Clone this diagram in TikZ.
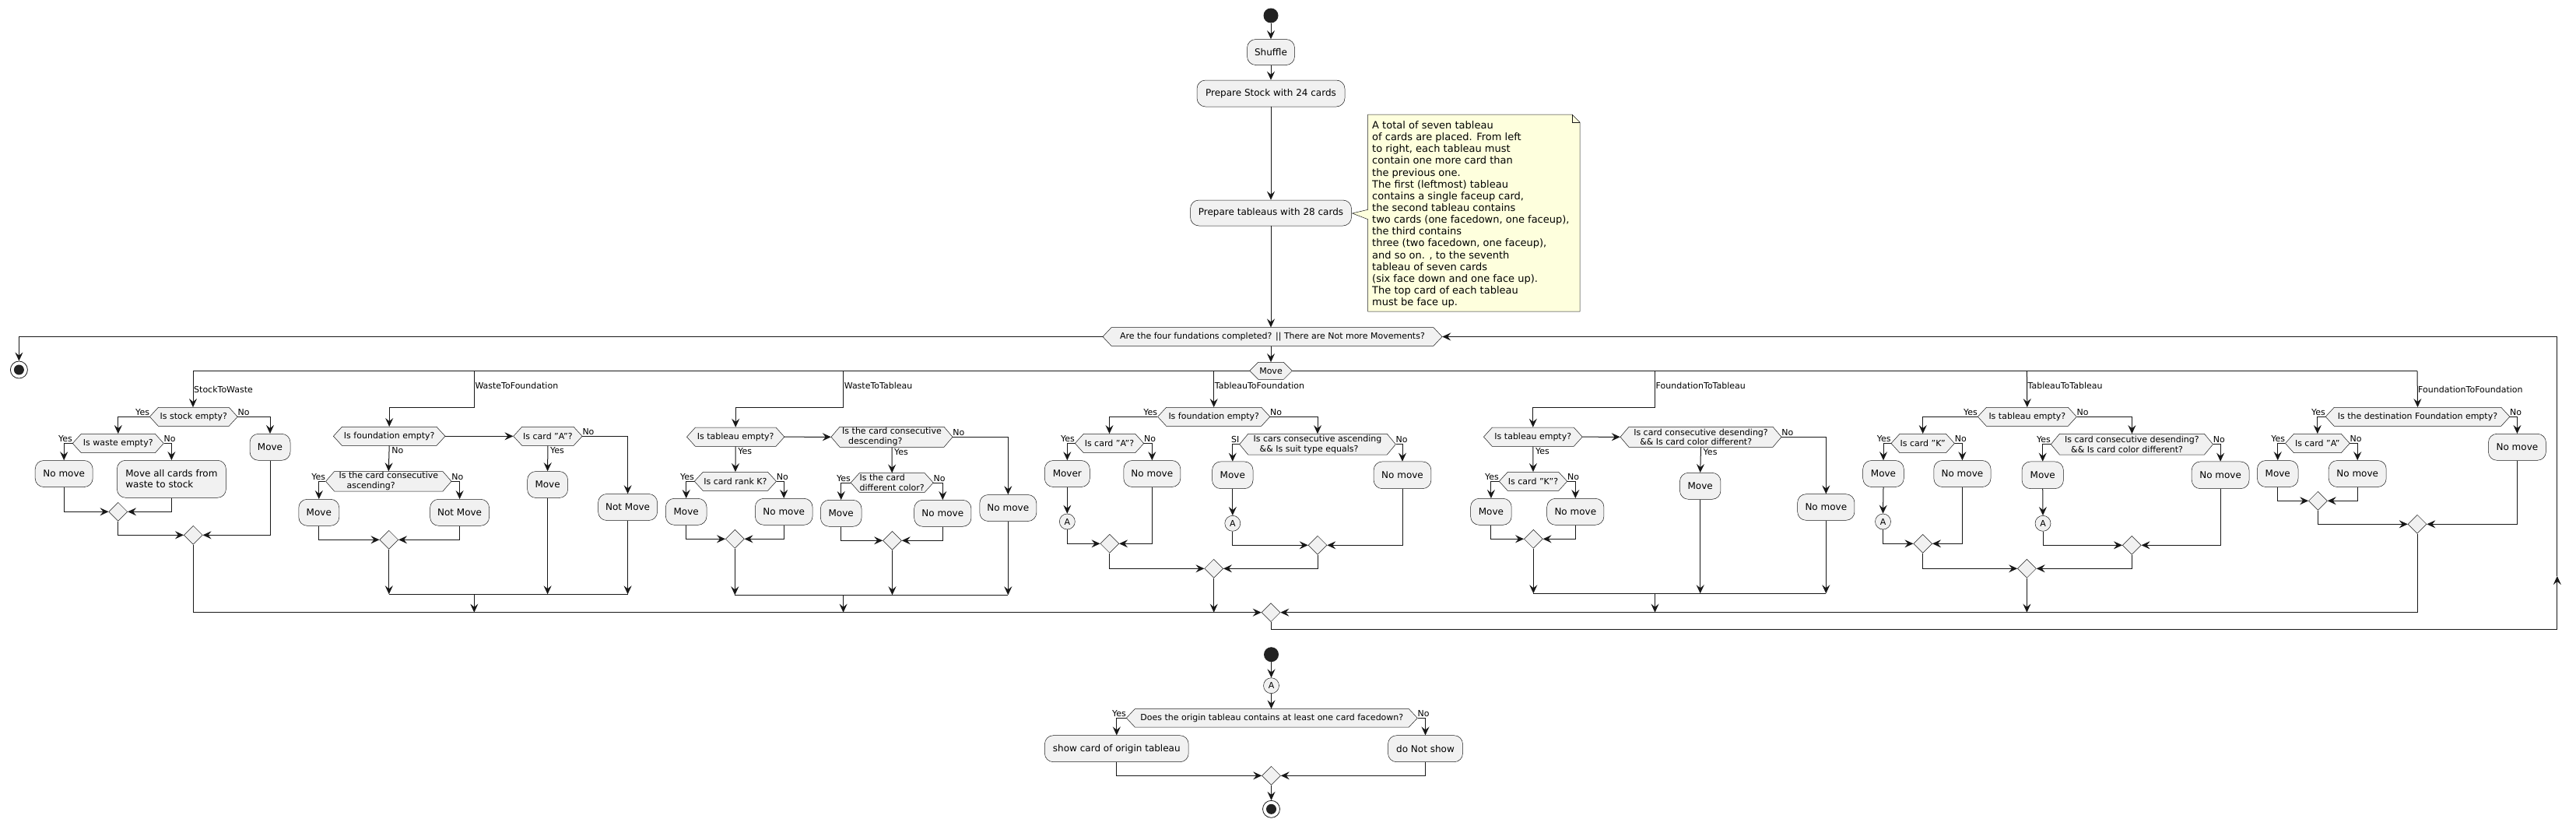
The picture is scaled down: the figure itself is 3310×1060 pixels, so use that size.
\documentclass[tikz,border=0pt]{standalone}
\usepackage{fontspec}
\setmainfont{DejaVu Sans}
\usetikzlibrary{arrows.meta,shapes.geometric,calc}
\definecolor{lc}{HTML}{181818}
\definecolor{bg}{HTML}{F1F1F1}
\definecolor{notef}{HTML}{FEFFDD}
\definecolor{dark}{HTML}{222222}
\newcommand\fA{\fontsize{12}{14}\selectfont}
\newcommand\fB{\fontsize{11}{12.8}\selectfont}
\newcommand\fN{\fontsize{13}{15.13}\selectfont}
\tikzset{
  actb/.style={draw=lc, line width=0.5pt, fill=bg, rounded corners=11pt, inner sep=0pt, font=\fA, align=left},
  hexb/.style={draw=lc, line width=0.5pt, fill=bg},
  hext/.style={inner sep=0pt, font=\fB, align=left},
  lbl/.style={inner sep=0pt, font=\fB},
  flow/.style={draw=lc, line width=1pt, -{Stealth[length=11pt,width=10pt,inset=4pt]}},
  ln/.style={draw=lc, line width=1pt},
  mdia/.style={diamond, draw=lc, line width=0.5pt, fill=bg, minimum width=24pt, minimum height=24pt, inner sep=0pt},
  conn/.style={circle, draw=lc, line width=0.5pt, fill=bg, minimum size=20pt, inner sep=0pt, font=\fB},
  startc/.style={circle, fill=dark, minimum size=19pt, inner sep=0pt},
  endc/.style={circle, draw=lc, line width=0.8pt, fill=white, minimum size=22pt, inner sep=0pt, path picture={\fill[dark] (path picture bounding box.center) circle[radius=6.5pt];}},
}
% name, cx, cy, w, h, text
\newcommand\actn[6]{\node[actb, minimum width=#4, minimum height=#5] (#1) at (#2,#3) {#6};}
% name, cx, cy, half-w, half-h, text
\newcommand\hexn[6]{%
  \filldraw[hexb] ({#2-#4},{#3}) -- ({#2-#4+11},{#3-#5}) -- ({#2+#4-11},{#3-#5}) -- ({#2+#4},{#3}) -- ({#2+#4-11},{#3+#5}) -- ({#2-#4+11},{#3+#5}) -- cycle;
  \node[hext, minimum width={2*#4}, minimum height={2*#5}] (#1) at (#2,#3) {#6};}
\newcommand\LL[3]{\node[lbl,anchor=base east] (#1) at ([yshift=2pt]#2.west) {#3};}
\newcommand\RL[3]{\node[lbl,anchor=base west] (#1) at ([yshift=2pt]#2.east) {#3};}
\newcommand\BL[3]{\node[lbl,anchor=north west] (#1) at ([xshift=3pt,yshift=-2pt]#2.south) {#3};}
\begin{document}
\begin{tikzpicture}[x=1pt,y=-1pt]
\fill[white] (0,0) rectangle (3310,1060);
\useasboundingbox (0,0) rectangle (3310,1060);

% ---------- top ----------
\node[startc] (st) at (1633,20) {};
\actn{shuf}{1633}{67}{61}{33}{Shuffle}
\actn{prep}{1633}{120}{190}{34}{Prepare Stock with 24 cards}
\actn{tabl}{1633}{273.5}{207}{33}{Prepare tableaus with 28 cards}
\draw[flow] (st.south) -- (shuf.north);
\draw[flow] (shuf.south) -- (prep.north);
\draw[flow] (prep.south) -- (tabl.north);

% note
\filldraw[draw=lc, line width=0.5pt, fill=notef] (1757.6,147) -- (2020,147) -- (2030,157) -- (2030,400) -- (1757.6,400) -- (1757.6,281.7) -- (1737.5,274) -- (1757.6,269.3) -- cycle;
\draw[lc, line width=0.5pt] (2020,147) -- (2020,157) -- (2030,157);
\node[font=\fN, align=left, anchor=north west, inner sep=0pt] (notetxt) at (1763,155.5) {A total of seven tableau\\of cards are placed. From left\\to right, each tableau must\\contain one more card than\\the previous one.\\The first (leftmost) tableau\\contains a single faceup card,\\the second tableau contains\\two cards (one facedown, one faceup),\\the third contains\\three (two facedown, one faceup),\\and so on. , to the seventh\\tableau of seven cards\\(six face down and one face up).\\The top card of each tableau\\must be face up.};

\hexn{loop}{1635}{432.5}{218}{11.8}{Are the four fundations completed? || There are Not more Movements?}
\draw[flow] (tabl.south) -- (tabl.south |- loop.north);

% exit
\node[endc] (en1) at (24.4,475) {};
\draw[flow] (loop.west) -| (en1.north);

% split line
\coordinate (b1) at (248,476.5);
\coordinate (b2) at (609.3,476.5);
\coordinate (b3) at (1083.6,476.5);
\coordinate (b4) at (1559.7,476.5);
\coordinate (b5) at (2126.5,476.5);
\coordinate (b6) at (2604.4,476.5);
\coordinate (b7) at (3106,476.5);
\draw[ln] (b1) -- (b7);
\hexn{mv}{1633}{476.3}{27.3}{11}{Move}
\draw[flow] (loop.south -| mv.north) -- (mv.north);

% big merge
\node[mdia] (mg) at (1633,786.7) {};
\coordinate (lbr) at (3285.8,808.3);
\coordinate (lmid) at (3285.8,740);
\coordinate (ltr) at (3285.8,432.5);
\draw[ln] (mg.south) |- (lbr);
\draw[flow] (lbr) -- (lmid);
\draw[ln] (lmid) -- (ltr);
\draw[flow] (ltr) -- (loop.east);

% ---------- StockToWaste ----------
\node[lbl,anchor=west] (bl1) at (249,500) {StockToWaste};
\hexn{s1}{248.8}{535.3}{56.4}{12}{Is stock empty?}
\hexn{s2}{151.8}{569.5}{58.5}{12.2}{Is waste empty?}
\actn{s3}{82.2}{608.5}{74}{34}{No move}
\actn{s4}{220.4}{615.3}{140}{48}{Move all cards from\\waste to stock}
\node[mdia] (s5) at (151.8,657.3) {};
\actn{s6}{347}{574.3}{52}{34}{Move}
\node[mdia] (s7) at (248.3,687.3) {};
\draw[flow] (b1) -- (b1 |- s1.north);
\draw[flow] (s1.west) -| (s2.north);
\LL{ls1}{s1}{Yes}
\draw[flow] (s1.east) -| (s6.north);
\RL{ls2}{s1}{No}
\draw[flow] (s2.west) -| (s3.north);
\LL{ls3}{s2}{Yes}
\draw[flow] (s2.east) -| (s4.north);
\RL{ls4}{s2}{No}
\draw[flow] (s3.south) |- (s5.west);
\draw[flow] (s4.south) |- (s5.east);
\draw[flow] (s5.south) |- (s7.west);
\draw[flow] (s6.south) |- (s7.east);
\draw[flow] (s7.south) |- (mg.west);

% ---------- WasteToFoundation ----------
\node[lbl,anchor=west] (bl2) at (610.3,495.7) {WasteToFoundation};
\hexn{w1}{500.2}{560.3}{71.8}{12}{Is foundation empty?}
\hexn{w2}{703.9}{560.3}{44.2}{12}{Is card "A"?}
\hexn{w3}{499.3}{618.3}{80.7}{12.7}{Is the card consecutive\\\hspace*{10pt}ascending?}
\actn{w4}{409.8}{658.3}{52}{34}{Move}
\actn{w5}{590.6}{658.3}{76}{34}{Not Move}
\node[mdia] (w6) at (499.8,693.3) {};
\actn{w7}{703.6}{622.5}{52}{34}{Move}
\actn{w8}{806.6}{651.5}{76}{34}{Not Move}
\coordinate (w2k) at (609.3,523.3);
\coordinate (wm) at (609.3,763.3);
\draw[flow] (b2) -- (w2k) -| (w1.north);
\draw[flow] (w1.east) -- (w2.west);
\draw[flow] (w1.south) -- (w3.north);
\BL{lw1}{w1}{No}
\draw[flow] (w3.west) -| (w4.north);
\LL{lw2}{w3}{Yes}
\draw[flow] (w3.east) -| (w5.north);
\RL{lw3}{w3}{No}
\draw[flow] (w4.south) |- (w6.west);
\draw[flow] (w5.south) |- (w6.east);
\draw[flow] (w2.south) -- (w7.north);
\BL{lw4}{w2}{Yes}
\draw[flow] (w2.east) -| (w8.north);
\RL{lw5}{w2}{No}
\draw[flow] (w6.south) -- (w6.south |- wm);
\draw[flow] (w7.south) -- (w7.south |- wm);
\draw[flow] (w8.south) -- (w8.south |- wm);
\draw[ln] (w6.south |- wm) -- (w8.south |- wm);
\draw[flow] (wm) -- (wm |- mg.west);

% ---------- WasteToTableau ----------
\node[lbl,anchor=west] (bl3) at (1084.6,495.7) {WasteToTableau};
\hexn{t1}{945.2}{561.2}{62.7}{12.2}{Is tableau empty?}
\hexn{t2}{1146}{561.3}{78}{13}{Is the card consecutive\\\hspace*{8pt}descending?}
\actn{t3}{1295.3}{652.5}{73}{34}{No move}
\hexn{t4}{944.9}{618.3}{52.6}{12}{Is card rank K?}
\actn{t5}{881.7}{657.3}{52.6}{34}{Move}
\actn{t6}{1007.2}{657.3}{73.7}{34}{No move}
\node[mdia] (t7) at (944.3,692.3) {};
\hexn{t8}{1146.2}{620}{53}{12.3}{Is the card\\different color?}
\actn{t9}{1080.7}{659.3}{52.6}{34}{Move}
\actn{t10}{1211.3}{659.3}{73.3}{34}{No move}
\node[mdia] (t11) at (1146.5,694.3) {};
\coordinate (t3k) at (1083.6,523.3);
\coordinate (tm) at (1083.6,764.3);
\draw[flow] (b3) -- (t3k) -| (t1.north);
\draw[flow] (t1.east) -- (t2.west);
\draw[flow] (t2.east) -| (t3.north);
\RL{lt1}{t2}{No}
\draw[flow] (t1.south) -- (t4.north);
\BL{lt2}{t1}{Yes}
\draw[flow] (t4.west) -| (t5.north);
\LL{lt3}{t4}{Yes}
\draw[flow] (t4.east) -| (t6.north);
\RL{lt4}{t4}{No}
\draw[flow] (t5.south) |- (t7.west);
\draw[flow] (t6.south) |- (t7.east);
\draw[flow] (t2.south) -- (t8.north);
\BL{lt5}{t2}{Yes}
\draw[flow] (t8.west) -| (t9.north);
\LL{lt6}{t8}{Yes}
\draw[flow] (t8.east) -| (t10.north);
\RL{lt7}{t8}{No}
\draw[flow] (t9.south) |- (t11.west);
\draw[flow] (t10.south) |- (t11.east);
\draw[flow] (t7.south) -- (t7.south |- tm);
\draw[flow] (t11.south) -- (t11.south |- tm);
\draw[flow] (t3.south) -- (t3.south |- tm);
\draw[ln] (t7.south |- tm) -- (t3.south |- tm);
\draw[flow] (tm) -- (tm |- mg.west);

% ---------- TableauToFoundation ----------
\node[lbl,anchor=west] (bl4) at (1560.7,495.7) {TableauToFoundation};
\hexn{f1}{1559.7}{535.3}{72.1}{12}{Is foundation empty?}
\hexn{f2}{1425.5}{569.5}{44.2}{12.2}{Is card "A"?}
\actn{f3}{1371.3}{608.5}{58}{34}{Mover}
\node[conn] (f4) at (1371.3,670) {A};
\actn{f5}{1480.3}{608.5}{73}{34}{No move}
\node[mdia] (f6) at (1425.8,698.3) {};
\hexn{f7}{1693}{570.7}{100.3}{13.3}{Is cars consecutive ascending\\\hspace*{8pt}\&\& Is suit type equals?}
\actn{f8}{1583.8}{610.3}{52.5}{34.7}{Move}
\node[conn] (f9) at (1583.8,672.3) {A};
\actn{f10}{1802}{610.3}{73.8}{34.7}{No move}
\node[mdia] (f11) at (1693,700.3) {};
\node[mdia] (f12) at (1559.7,730.3) {};
\draw[flow] (b4) -- (f1.north);
\draw[flow] (f1.west) -| (f2.north);
\LL{lf1}{f1}{Yes}
\draw[flow] (f1.east) -| (f7.north);
\RL{lf2}{f1}{No}
\draw[flow] (f2.west) -| (f3.north);
\LL{lf3}{f2}{Yes}
\draw[flow] (f2.east) -| (f5.north);
\RL{lf4}{f2}{No}
\draw[flow] (f3.south) -- (f4.north);
\draw[flow] (f4.south) |- (f6.west);
\draw[flow] (f5.south) |- (f6.east);
\draw[flow] (f7.west) -| (f8.north);
\LL{lf5}{f7}{SI}
\draw[flow] (f7.east) -| (f10.north);
\RL{lf6}{f7}{No}
\draw[flow] (f8.south) -- (f9.north);
\draw[flow] (f9.south) |- (f11.west);
\draw[flow] (f10.south) |- (f11.east);
\draw[flow] (f6.south) |- (f12.west);
\draw[flow] (f11.south) |- (f12.east);
\draw[flow] (f12.south) -- (f12.south |- mg.west);

% ---------- FoundationToTableau ----------
\node[lbl,anchor=west] (bl5) at (2127.5,495.7) {FoundationToTableau};
\hexn{g1}{1969.8}{561.2}{63.4}{12.2}{Is tableau empty?}
\hexn{g2}{2185.5}{561.3}{103.5}{13}{Is card consecutive desending?\\\hspace*{8pt}\&\& Is card color different?}
\actn{g3}{2346.3}{651.5}{73.3}{33.6}{No move}
\actn{g4}{2184.7}{624.3}{52.5}{34}{Move}
\hexn{g5}{1970}{618.3}{43.7}{12}{Is card "K"?}
\actn{g6}{1915.9}{657.3}{52.6}{34}{Move}
\actn{g7}{2024.3}{657.3}{73.2}{34}{No move}
\node[mdia] (g8) at (1970.3,692.3) {};
\coordinate (g5k) at (2126.5,523.3);
\coordinate (gm) at (2126.5,762.3);
\draw[flow] (b5) -- (g5k) -| (g1.north);
\draw[flow] (g1.east) -- (g2.west);
\draw[flow] (g2.east) -| (g3.north);
\RL{lg1}{g2}{No}
\draw[flow] (g2.south) -- (g4.north);
\BL{lg2}{g2}{Yes}
\draw[flow] (g1.south) -- (g5.north);
\BL{lg3}{g1}{Yes}
\draw[flow] (g5.west) -| (g6.north);
\LL{lg4}{g5}{Yes}
\draw[flow] (g5.east) -| (g7.north);
\RL{lg5}{g5}{No}
\draw[flow] (g6.south) |- (g8.west);
\draw[flow] (g7.south) |- (g8.east);
\draw[flow] (g8.south) -- (g8.south |- gm);
\draw[flow] (g4.south) -- (g4.south |- gm);
\draw[flow] (g3.south) -- (g3.south |- gm);
\draw[ln] (g8.south |- gm) -- (g3.south |- gm);
\draw[flow] (gm) -- (gm |- mg.east);

% ---------- TableauToTableau ----------
\node[lbl,anchor=west] (bl6) at (2605.4,495.7) {TableauToTableau};
\hexn{h1}{2604.8}{535.3}{63.5}{12}{Is tableau empty?}
\hexn{h2}{2470.7}{569.5}{40.7}{12.2}{Is card "K"}
\actn{h3}{2420}{608.5}{52.6}{34}{Move}
\node[conn] (h4) at (2419.5,670) {A};
\actn{h5}{2521.4}{608.5}{73.2}{34}{No move}
\node[mdia] (h6) at (2470.7,698.3) {};
\hexn{h7}{2739.4}{570.7}{104.1}{13.3}{Is card consecutive desending?\\\hspace*{8pt}\&\& Is card color different?}
\actn{h8}{2624.7}{610.3}{53.4}{34.7}{Move}
\node[conn] (h9) at (2625,672.3) {A};
\actn{h10}{2853.1}{610.3}{73.8}{34.7}{No move}
\node[mdia] (h11) at (2739.2,700.3) {};
\node[mdia] (h12) at (2604.4,730.3) {};
\draw[flow] (b6) -- (h1.north);
\draw[flow] (h1.west) -| (h2.north);
\LL{lh1}{h1}{Yes}
\draw[flow] (h1.east) -| (h7.north);
\RL{lh2}{h1}{No}
\draw[flow] (h2.west) -| (h3.north);
\LL{lh3}{h2}{Yes}
\draw[flow] (h2.east) -| (h5.north);
\RL{lh4}{h2}{No}
\draw[flow] (h3.south) -- (h4.north);
\draw[flow] (h4.south) |- (h6.west);
\draw[flow] (h5.south) |- (h6.east);
\draw[flow] (h7.west) -| (h8.north);
\LL{lh5}{h7}{Yes}
\draw[flow] (h7.east) -| (h10.north);
\RL{lh6}{h7}{No}
\draw[flow] (h8.south) -- (h9.north);
\draw[flow] (h9.south) |- (h11.west);
\draw[flow] (h10.south) |- (h11.east);
\draw[flow] (h6.south) |- (h12.west);
\draw[flow] (h11.south) |- (h12.east);
\draw[flow] (h12.south) -- (h12.south |- mg.east);

% ---------- FoundationToFoundation ----------
\node[lbl,anchor=west] (bl7) at (3107,500) {FoundationToFoundation};
\hexn{k1}{3106.5}{535.3}{118.3}{12}{Is the destination Foundation empty?}
\hexn{k2}{2977.8}{569.5}{41.4}{12.2}{Is card "A"}
\actn{k3}{2926.7}{608.5}{52.6}{34}{Move}
\actn{k4}{3029.2}{608.5}{74}{34}{No move}
\node[mdia] (k5) at (2978.4,643.3) {};
\actn{k6}{3234.4}{574.3}{74}{34}{No move}
\node[mdia] (k7) at (3106,673.3) {};
\draw[flow] (b7) -- (k1.north);
\draw[flow] (k1.west) -| (k2.north);
\LL{lk1}{k1}{Yes}
\draw[flow] (k1.east) -| (k6.north);
\RL{lk2}{k1}{No}
\draw[flow] (k2.west) -| (k3.north);
\LL{lk3}{k2}{Yes}
\draw[flow] (k2.east) -| (k4.north);
\RL{lk4}{k2}{No}
\draw[flow] (k3.south) |- (k5.west);
\draw[flow] (k4.south) |- (k5.east);
\draw[flow] (k5.south) |- (k7.west);
\draw[flow] (k6.south) |- (k7.east);
\draw[flow] (k7.south) |- (mg.east);

% ---------- bottom ----------
\node[startc] (st2) at (1633.5,840.7) {};
\node[conn] (a0) at (1633.5,880.7) {A};
\hexn{d1}{1634.3}{922.3}{187}{11.7}{Does the origin tableau contains at least one card facedown?}
\actn{d2}{1434.8}{961.7}{184.8}{34}{show card of origin tableau}
\actn{d3}{1831.5}{961.7}{96}{34}{do Not show}
\node[mdia] (d4) at (1633.5,996.3) {};
\node[endc] (en2) at (1633.5,1039.3) {};
\draw[flow] (st2.south) -- (a0.north);
\draw[flow] (a0.south) -- (a0.south |- d1.north);
\draw[flow] (d1.west) -| (d2.north);
\LL{ld1}{d1}{Yes}
\draw[flow] (d1.east) -| (d3.north);
\RL{ld2}{d1}{No}
\draw[flow] (d2.south) |- (d4.west);
\draw[flow] (d3.south) |- (d4.east);
\draw[flow] (d4.south) -- (en2.north);
\end{tikzpicture}
\end{document}
